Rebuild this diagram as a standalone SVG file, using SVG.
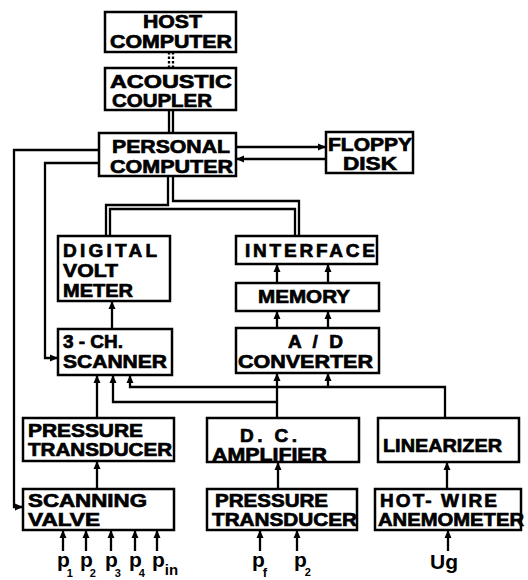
<svg xmlns="http://www.w3.org/2000/svg" width="528" height="580" viewBox="0 0 528 580">
<style>
.box{fill:#fff;stroke:#000;stroke-width:2.5}
.c{fill:none;stroke:#000;stroke-width:2.3}
.t{font-family:"Liberation Sans",Arial,sans-serif;font-weight:bold;font-size:19px;fill:#000;stroke:#000;stroke-width:0.7}
.g{font-family:"Liberation Sans",Arial,sans-serif;font-weight:bold;font-size:21px;fill:#000}
</style>
<defs>
<marker id="a" markerUnits="userSpaceOnUse" markerWidth="8" markerHeight="8" refX="7" refY="4" orient="auto">
<path d="M0,0.5 L8,4 L0,7.5 z" fill="#000"/>
</marker>
</defs>
<g id="connectors">
<line class="c" x1="169" y1="52" x2="169" y2="68" stroke-dasharray="2.5,2"/>
<line class="c" x1="173" y1="52" x2="173" y2="68" stroke-dasharray="2.5,2"/>
<line class="c" x1="169" y1="110" x2="169" y2="133"/>
<line class="c" x1="173" y1="110" x2="173" y2="133"/>
<path class="c" d="M168,176 V205 H106 V236"/>
<path class="c" d="M110,236 V209 H295 V236"/>
<path class="c" d="M173,176 V201 H299 V236"/>
<line class="c" x1="236" y1="147" x2="325" y2="147" marker-end="url(#a)"/>
<line class="c" x1="326" y1="159" x2="237" y2="159" marker-end="url(#a)"/>
<path class="c" d="M99,150 H14 V507 H22" marker-end="url(#a)"/>
<path class="c" d="M99,163 H45 V358 H57" marker-end="url(#a)"/>
<line class="c" x1="277" y1="283" x2="277" y2="265" marker-end="url(#a)"/>
<line class="c" x1="328" y1="283" x2="328" y2="265" marker-end="url(#a)"/>
<line class="c" x1="277" y1="328" x2="277" y2="312" marker-end="url(#a)"/>
<line class="c" x1="328" y1="328" x2="328" y2="312" marker-end="url(#a)"/>
<line class="c" x1="112" y1="329" x2="112" y2="302" marker-end="url(#a)"/>
<line class="c" x1="97" y1="418" x2="97" y2="376" marker-end="url(#a)"/>
<path class="c" d="M277,402 H113 V376" marker-end="url(#a)"/>
<path class="c" d="M445,418 V387 H130 V376" marker-end="url(#a)"/>
<line class="c" x1="277" y1="418" x2="277" y2="374" marker-end="url(#a)"/>
<line class="c" x1="328" y1="387" x2="328" y2="374" marker-end="url(#a)"/>
<line class="c" x1="97" y1="489" x2="97" y2="462" marker-end="url(#a)"/>
<line class="c" x1="278" y1="489" x2="278" y2="463" marker-end="url(#a)"/>
<line class="c" x1="447" y1="489" x2="447" y2="463" marker-end="url(#a)"/>
<line class="c" x1="63" y1="551" x2="63" y2="531" marker-end="url(#a)"/>
<line class="c" x1="86" y1="551" x2="86" y2="531" marker-end="url(#a)"/>
<line class="c" x1="111" y1="551" x2="111" y2="531" marker-end="url(#a)"/>
<line class="c" x1="135" y1="551" x2="135" y2="531" marker-end="url(#a)"/>
<line class="c" x1="157" y1="551" x2="157" y2="531" marker-end="url(#a)"/>
<line class="c" x1="260" y1="551" x2="260" y2="531" marker-end="url(#a)"/>
<line class="c" x1="297" y1="551" x2="297" y2="531" marker-end="url(#a)"/>
<line class="c" x1="448" y1="551" x2="448" y2="531" marker-end="url(#a)"/>
</g>
<g id="host"><rect class="box" x="105" y="12" width="131" height="40"/>
<text class="t" x="143" y="28" textLength="59" lengthAdjust="spacingAndGlyphs">HOST</text>
<text class="t" x="110" y="48" textLength="122" lengthAdjust="spacingAndGlyphs">COMPUTER</text></g>
<g id="acoustic"><rect class="box" x="105" y="68" width="131" height="42"/>
<text class="t" x="110" y="88" textLength="122" lengthAdjust="spacingAndGlyphs">ACOUSTIC</text>
<text class="t" x="112" y="107" textLength="100" lengthAdjust="spacingAndGlyphs">COUPLER</text></g>
<g id="pc"><rect class="box" x="99" y="133" width="137" height="43"/>
<text class="t" x="112" y="153" textLength="118" lengthAdjust="spacingAndGlyphs">PERSONAL</text>
<text class="t" x="110" y="173" textLength="123" lengthAdjust="spacingAndGlyphs">COMPUTER</text></g>
<g id="floppy"><rect class="box" x="326" y="132" width="87" height="41"/>
<text class="t" x="328" y="151" textLength="84" lengthAdjust="spacingAndGlyphs">FLOPPY</text>
<text class="t" x="343" y="170" textLength="54" lengthAdjust="spacingAndGlyphs">DISK</text></g>
<g id="dvm"><rect class="box" x="58" y="236" width="112" height="65"/>
<text class="t" x="63" y="257" textLength="94">DIGITAL</text>
<text class="t" x="63" y="277" textLength="55" lengthAdjust="spacingAndGlyphs">VOLT</text>
<text class="t" x="63" y="297" textLength="70" lengthAdjust="spacingAndGlyphs">METER</text></g>
<g id="interface"><rect class="box" x="236" y="236" width="141" height="28"/>
<text class="t" x="245" y="257" textLength="130">INTERFACE</text></g>
<g id="memory"><rect class="box" x="236" y="283" width="143" height="28"/>
<text class="t" x="258" y="303" textLength="92" lengthAdjust="spacingAndGlyphs">MEMORY</text></g>
<g id="adc"><rect class="box" x="236" y="328" width="143" height="45"/>
<text class="t" x="288" y="348" textLength="55">A / D</text>
<text class="t" x="238" y="368" textLength="135" lengthAdjust="spacingAndGlyphs">CONVERTER</text></g>
<g id="scanner"><rect class="box" x="58" y="329" width="114" height="46"/>
<text class="t" x="63" y="348" textLength="60">3 - CH.</text>
<text class="t" x="63" y="368" textLength="104" lengthAdjust="spacingAndGlyphs">SCANNER</text></g>
<g id="pt1"><rect class="box" x="23" y="418" width="151" height="43"/>
<text class="t" x="28" y="437" textLength="115" lengthAdjust="spacingAndGlyphs">PRESSURE</text>
<text class="t" x="28" y="456" textLength="144" lengthAdjust="spacingAndGlyphs">TRANSDUCER</text></g>
<g id="dcamp"><rect class="box" x="207" y="418" width="152" height="44"/>
<text class="t" x="240" y="442" textLength="57">D. C.</text>
<text class="t" x="212" y="461" textLength="115" lengthAdjust="spacingAndGlyphs">AMPLIFIER</text></g>
<g id="lin"><rect class="box" x="378" y="418" width="141" height="44"/>
<text class="t" x="383" y="452" textLength="119" lengthAdjust="spacingAndGlyphs">LINEARIZER</text></g>
<g id="sv"><rect class="box" x="23" y="489" width="151" height="41"/>
<text class="t" x="28" y="507" textLength="119" lengthAdjust="spacingAndGlyphs">SCANNING</text>
<text class="t" x="28" y="526" textLength="72" lengthAdjust="spacingAndGlyphs">VALVE</text></g>
<g id="pt2"><rect class="box" x="207" y="489" width="150" height="41"/>
<text class="t" x="215" y="507" textLength="113" lengthAdjust="spacingAndGlyphs">PRESSURE</text>
<text class="t" x="212" y="526" textLength="145" lengthAdjust="spacingAndGlyphs">TRANSDUCER</text></g>
<g id="hwa"><rect class="box" x="375" y="489" width="146" height="41"/>
<text class="t" x="380" y="507" textLength="117">HOT- WIRE</text>
<text class="t" x="378" y="526" textLength="146" lengthAdjust="spacingAndGlyphs">ANEMOMETER</text></g>
<g id="labels">
<text class="g" x="57" y="567">p<tspan dx="-3" dy="10" font-size="11">1</tspan></text>
<text class="g" x="80" y="567">p<tspan dx="-3" dy="10" font-size="11">2</tspan></text>
<text class="g" x="105" y="567">p<tspan dx="-3" dy="10" font-size="11">3</tspan></text>
<text class="g" x="129" y="567">p<tspan dx="-3" dy="10" font-size="11">4</tspan></text>
<text class="g" x="152" y="567">p<tspan dx="0" dy="8" font-size="15">in</tspan></text>
<text class="g" x="252" y="567">p<tspan dx="-2" dy="10" font-size="13">f</tspan></text>
<text class="g" x="294" y="567">p<tspan dx="-2" dy="9" font-size="11">2</tspan></text>
<text class="g" x="430" y="569" font-size="22">Ug</text>
</g>
</svg>
